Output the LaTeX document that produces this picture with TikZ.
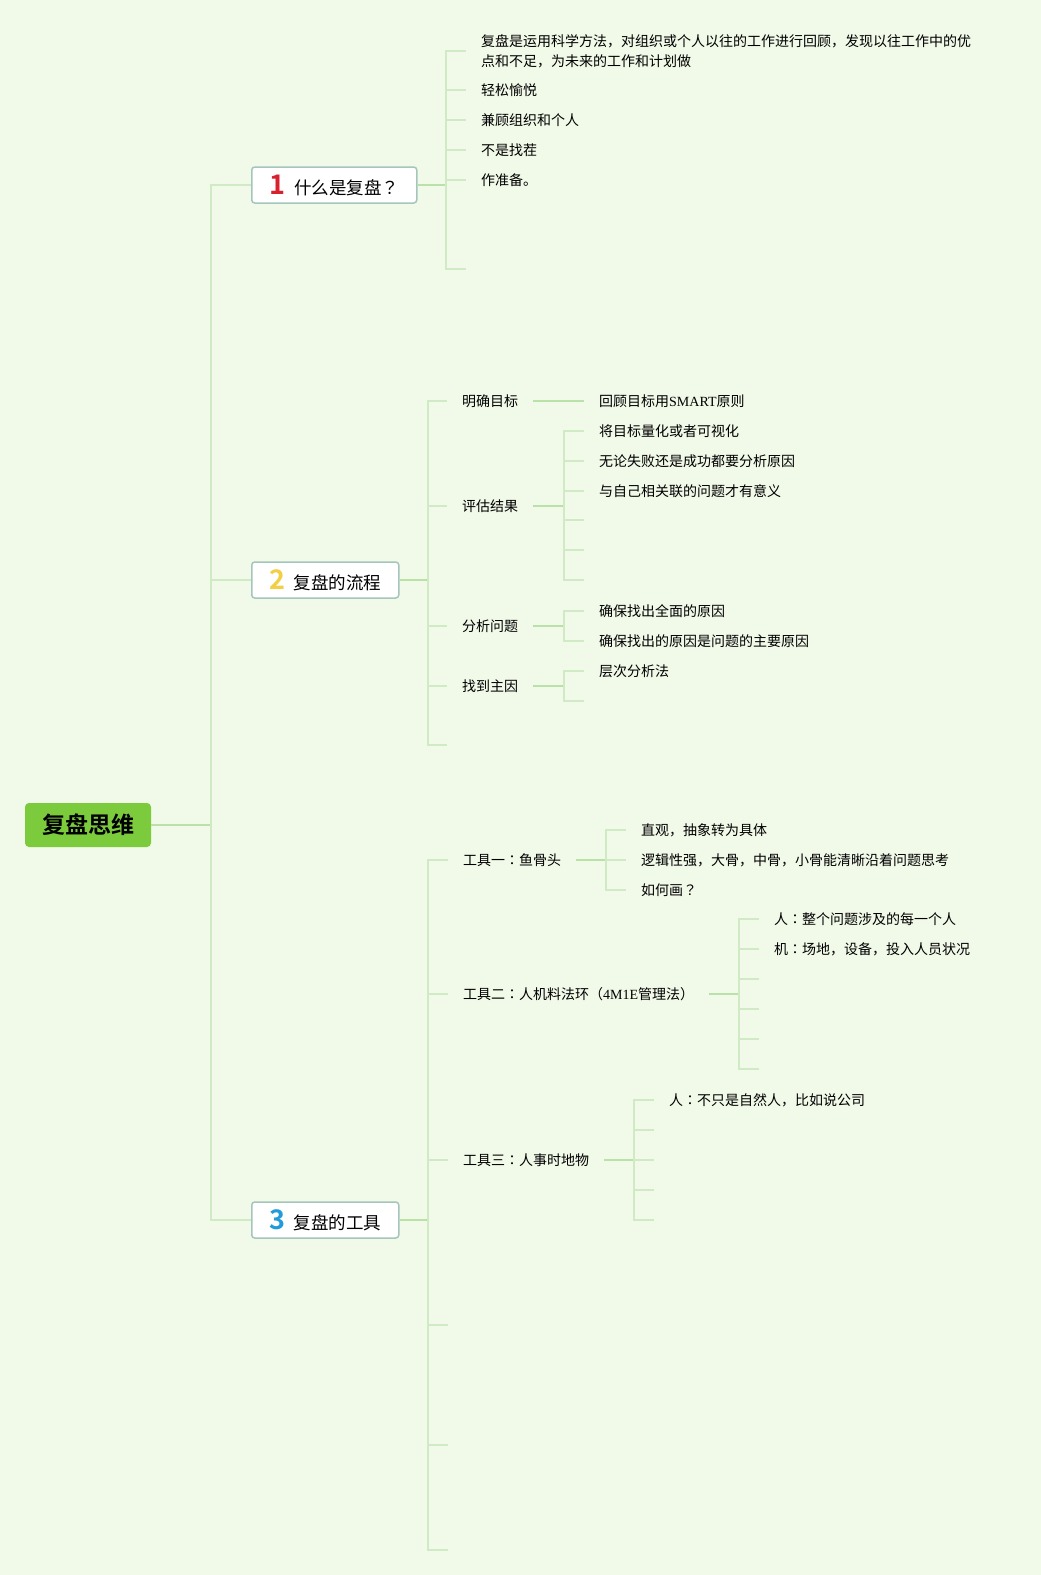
\documentclass[tikz,border=0pt]{standalone}
\usepackage{fontspec}
\setmainfont{Noto Sans CJK SC}[BoldFont={Noto Sans CJK SC Bold}]
\newfontfamily\latinpart{Liberation Serif}
\newfontfamily\jppunct{Noto Sans CJK JP}
\definecolor{bgcol}{HTML}{F1F9E9}
\definecolor{linkcol}{HTML}{BAE2A8}
\definecolor{tickcol}{HTML}{CFEAC4}
\definecolor{rootcol}{HTML}{7BCB3C}
\definecolor{boxline}{HTML}{A5C6BC}
\definecolor{numred}{HTML}{D9202F}
\definecolor{numyel}{HTML}{F3CF45}
\definecolor{numblue}{HTML}{229BDB}
\newcommand{\bignum}[2]{{\fontsize{27}{27}\selectfont\bfseries\color{#1}#2}\hspace{9pt}}
\newcommand{\colonmark}{{\jppunct ：}}
\newcommand{\askmark}{{\jppunct ？}}
\begin{document}
\begin{tikzpicture}[x=1pt,y=-1pt,
  root/.style={fill=rootcol,rounded corners=4pt,minimum width=126pt,minimum height=44pt,inner sep=0pt,font=\fontsize{23}{23}\selectfont\bfseries},
  topic/.style={draw=boxline,line width=1.5pt,fill=white,rounded corners=3pt,minimum height=36pt,inner sep=0pt,anchor=west,font=\fontsize{17.5}{20}\selectfont},
  leaf/.style={anchor=west,inner xsep=15pt,inner ysep=3pt,font=\fontsize{14}{20}\selectfont,align=left},
  link/.style={draw=linkcol,line width=2pt},
  tick/.style={draw=tickcol,line width=1.6pt}]
\fill[bgcol] (0,0) rectangle (1041,1575);
\useasboundingbox (0,0) rectangle (1041,1575);
% the root and its three topics
\node[root] (fupan) at (88,825) {复盘思维};
\node[topic,minimum width=165pt] (what) at (251,185) {\bignum{numred}{1}什么是复盘\askmark};
\node[topic,minimum width=147pt] (flow) at (251,580) {\bignum{numyel}{2}复盘的流程};
\node[topic,minimum width=147pt] (tool) at (251,1220) {\bignum{numblue}{3}复盘的工具};
\coordinate (trunk) at (211,825);
\draw[link] (fupan.east) -- (trunk);
\draw[tick] (what.west) -| (trunk);
\draw[tick] (flow.west) -| (trunk);
\draw[tick] (tool.west) -| (trunk);
% topic 1
\node[leaf] (what1) at (466,51) {复盘是运用科学方法，对组织或个人以往的工作进行回顾，发现以往工作中的优\\点和不足，为未来的工作和计划做};
\node[leaf] (what2) at (466,90) {轻松愉悦};
\node[leaf] (what3) at (466,120) {兼顾组织和个人};
\node[leaf] (what4) at (466,150) {不是找茬};
\node[leaf] (what5) at (466,180) {作准备。};
\coordinate (what6) at (466,269);
\coordinate (sp1) at (446,185);
\draw[link] (what.east) -- (sp1);
\draw[tick] (what1.west) -| (sp1);
\draw[tick] (what2.west) -| (sp1);
\draw[tick] (what3.west) -| (sp1);
\draw[tick] (what4.west) -| (sp1);
\draw[tick] (what5.west) -| (sp1);
\draw[tick] (what6) -| (sp1);
% topic 2
\node[leaf] (goal) at (447,401) {明确目标};
\node[leaf] (eval) at (447,506) {评估结果};
\node[leaf] (anal) at (447,626) {分析问题};
\node[leaf] (main) at (447,686) {找到主因};
\coordinate (flow5) at (447,745);
\coordinate (sp2) at (428,580);
\draw[link] (flow.east) -- (sp2);
\draw[tick] (goal.west) -| (sp2);
\draw[tick] (eval.west) -| (sp2);
\draw[tick] (anal.west) -| (sp2);
\draw[tick] (main.west) -| (sp2);
\draw[tick] (flow5) -| (sp2);
\node[leaf] (goal1) at (584,401) {回顾目标用{\latinpart SMART}原则};
\draw[link] (goal.east) -- (goal1.west);
\node[leaf] (eval1) at (584,431) {将目标量化或者可视化};
\node[leaf] (eval2) at (584,461) {无论失败还是成功都要分析原因};
\node[leaf] (eval3) at (584,491) {与自己相关联的问题才有意义};
\coordinate (eval4) at (584,520);
\coordinate (eval5) at (584,550);
\coordinate (eval6) at (584,580);
\coordinate (sp22) at (564,506);
\draw[link] (eval.east) -- (sp22);
\draw[tick] (eval1.west) -| (sp22);
\draw[tick] (eval2.west) -| (sp22);
\draw[tick] (eval3.west) -| (sp22);
\draw[tick] (eval4) -| (sp22);
\draw[tick] (eval5) -| (sp22);
\draw[tick] (eval6) -| (sp22);
\node[leaf] (anal1) at (584,611) {确保找出全面的原因};
\node[leaf] (anal2) at (584,641) {确保找出的原因是问题的主要原因};
\coordinate (sp23) at (564,626);
\draw[link] (anal.east) -- (sp23);
\draw[tick] (anal1.west) -| (sp23);
\draw[tick] (anal2.west) -| (sp23);
\node[leaf] (main1) at (584,671) {层次分析法};
\coordinate (main2) at (584,701);
\coordinate (sp24) at (564,686);
\draw[link] (main.east) -- (sp24);
\draw[tick] (main1.west) -| (sp24);
\draw[tick] (main2) -| (sp24);
% topic 3
\node[leaf] (fish) at (448,860) {工具一\colonmark 鱼骨头};
\node[leaf] (mmm) at (448,994) {工具二\colonmark 人机料法环（{\latinpart 4M1E}管理法）};
\node[leaf] (five) at (448,1160) {工具三\colonmark 人事时地物};
\coordinate (tool4) at (448,1325);
\coordinate (tool5) at (448,1445);
\coordinate (tool6) at (448,1550);
\coordinate (sp3) at (428,1220);
\draw[link] (tool.east) -- (sp3);
\draw[tick] (fish.west) -| (sp3);
\draw[tick] (mmm.west) -| (sp3);
\draw[tick] (five.west) -| (sp3);
\draw[tick] (tool4) -| (sp3);
\draw[tick] (tool5) -| (sp3);
\draw[tick] (tool6) -| (sp3);
\node[leaf] (fish1) at (626,830) {直观，抽象转为具体};
\node[leaf] (fish2) at (626,860) {逻辑性强，大骨，中骨，小骨能清晰沿着问题思考};
\node[leaf] (fish3) at (626,890) {如何画\askmark};
\coordinate (sp31) at (606,860);
\draw[link] (fish.east) -- (sp31);
\draw[tick] (fish1.west) -| (sp31);
\draw[tick] (fish2.west) -| (sp31);
\draw[tick] (fish3.west) -| (sp31);
\node[leaf] (mmm1) at (759,919) {人\colonmark 整个问题涉及的每一个人};
\node[leaf] (mmm2) at (759,949) {机\colonmark 场地，设备，投入人员状况};
\coordinate (mmm3) at (759,979);
\coordinate (mmm4) at (759,1009);
\coordinate (mmm5) at (759,1039);
\coordinate (mmm6) at (759,1069);
\coordinate (sp32) at (739,994);
\draw[link] (mmm.east) -- (sp32);
\draw[tick] (mmm1.west) -| (sp32);
\draw[tick] (mmm2.west) -| (sp32);
\draw[tick] (mmm3) -| (sp32);
\draw[tick] (mmm4) -| (sp32);
\draw[tick] (mmm5) -| (sp32);
\draw[tick] (mmm6) -| (sp32);
\node[leaf] (five1) at (654,1100) {人\colonmark 不只是自然人，比如说公司};
\coordinate (five2) at (654,1130);
\coordinate (five3) at (654,1160);
\coordinate (five4) at (654,1190);
\coordinate (five5) at (654,1220);
\coordinate (sp33) at (634,1160);
\draw[link] (five.east) -- (sp33);
\draw[tick] (five1.west) -| (sp33);
\draw[tick] (five2) -| (sp33);
\draw[tick] (five3) -| (sp33);
\draw[tick] (five4) -| (sp33);
\draw[tick] (five5) -| (sp33);
\end{tikzpicture}
\end{document}
